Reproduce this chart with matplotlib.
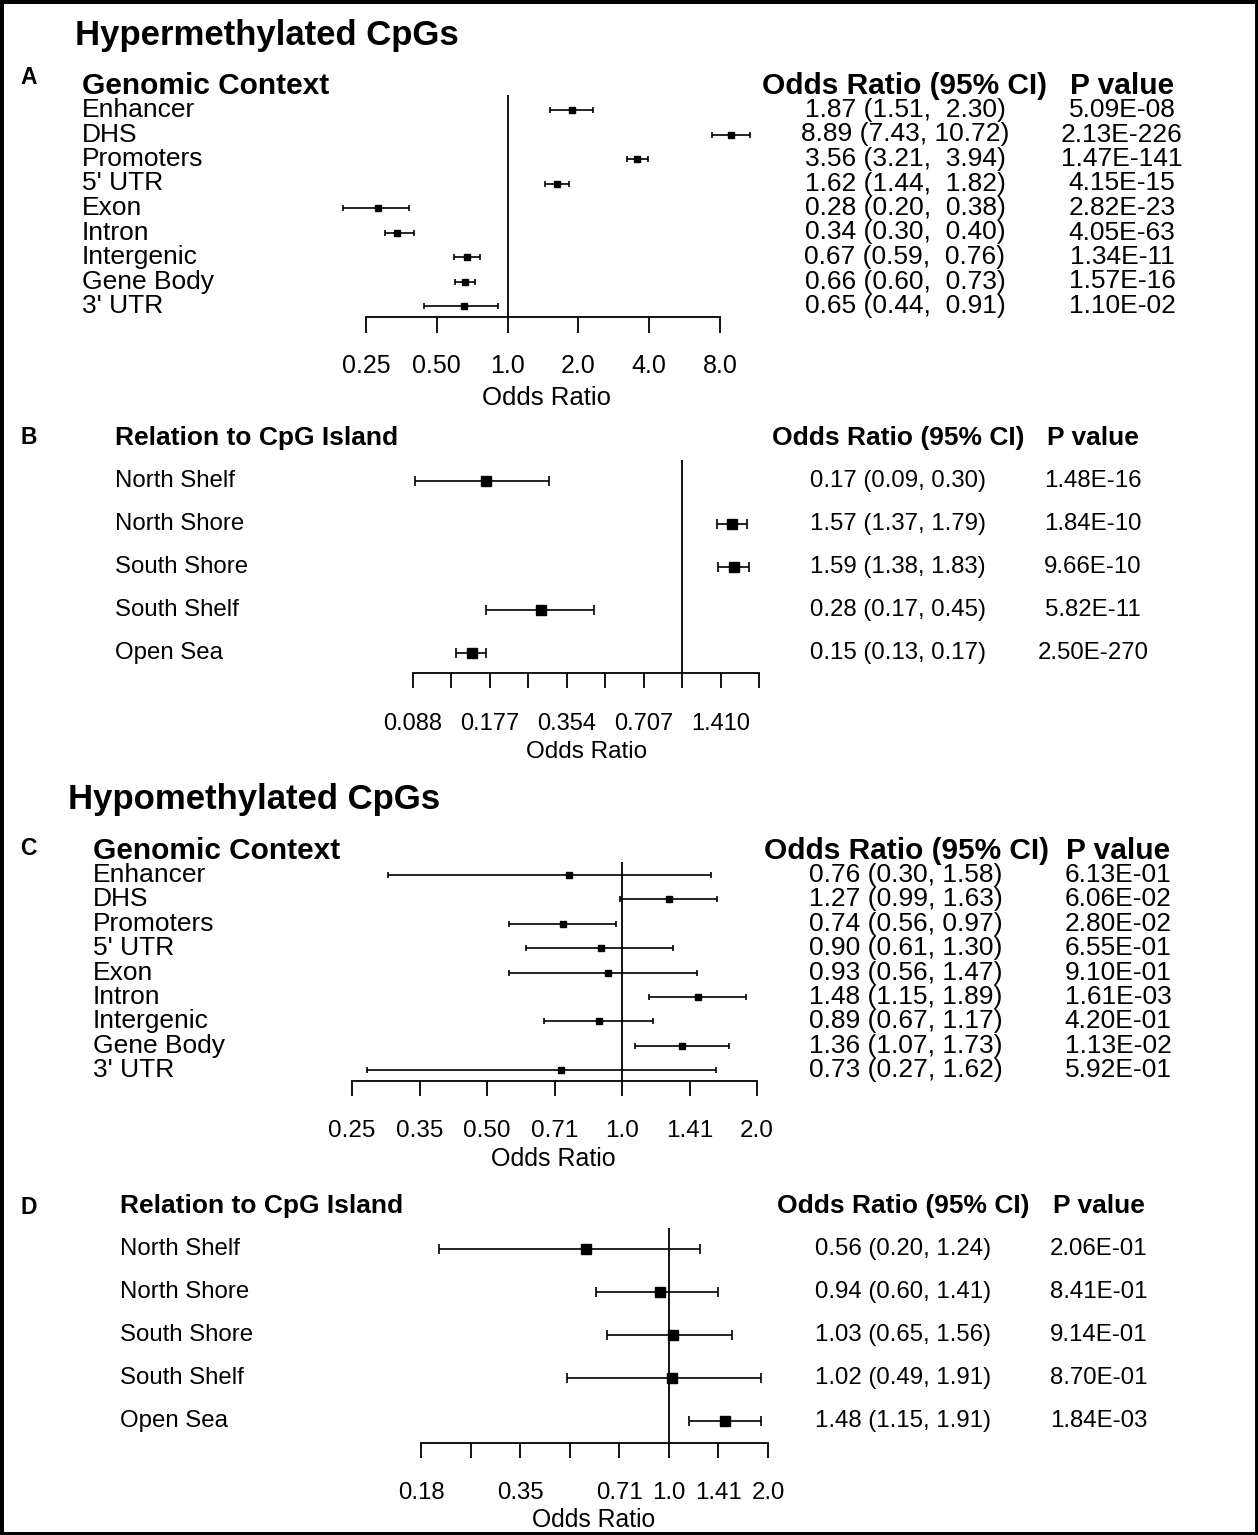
import numpy as np
import matplotlib
matplotlib.use('Agg')
import matplotlib.pyplot as plt
import matplotlib.transforms as mtransforms
from matplotlib.patches import Rectangle

plt.rcParams['font.family'] = ['Liberation Sans', 'DejaVu Sans']

W, H = 1258, 1535

# genomic context, hypermethylated
ctx_names = ['Enhancer', 'DHS', 'Promoters', "5' UTR", 'Exon', 'Intron',
             'Intergenic', 'Gene Body', "3' UTR"]
a_or = [1.87, 8.89, 3.56, 1.62, 0.28, 0.34, 0.67, 0.66, 0.65]
a_lo = [1.51, 7.43, 3.21, 1.44, 0.20, 0.30, 0.59, 0.60, 0.44]
a_hi = [2.30, 10.72, 3.94, 1.82, 0.38, 0.40, 0.76, 0.73, 0.91]
a_p = [5.09e-08, 2.13e-226, 1.47e-141, 4.15e-15, 2.82e-23, 4.05e-63,
       1.34e-11, 1.57e-16, 1.10e-02]

# relation to CpG island, hypermethylated
isl_names = ['North Shelf', 'North Shore', 'South Shore', 'South Shelf', 'Open Sea']
b_or = [0.17, 1.57, 1.59, 0.28, 0.15]
b_lo = [0.09, 1.37, 1.38, 0.17, 0.13]
b_hi = [0.30, 1.79, 1.83, 0.45, 0.17]
b_p = [1.48e-16, 1.84e-10, 9.66e-10, 5.82e-11, 2.50e-270]

# genomic context, hypomethylated
c_or = [0.76, 1.27, 0.74, 0.90, 0.93, 1.48, 0.89, 1.36, 0.73]
c_lo = [0.30, 0.99, 0.56, 0.61, 0.56, 1.15, 0.67, 1.07, 0.27]
c_hi = [1.58, 1.63, 0.97, 1.30, 1.47, 1.89, 1.17, 1.73, 1.62]
c_p = [6.13e-01, 6.06e-02, 2.80e-02, 6.55e-01, 9.10e-01, 1.61e-03,
       4.20e-01, 1.13e-02, 5.92e-01]

# relation to CpG island, hypomethylated
d_or = [0.56, 0.94, 1.03, 1.02, 1.48]
d_lo = [0.20, 0.60, 0.65, 0.49, 1.15]
d_hi = [1.24, 1.41, 1.56, 1.91, 1.91]
d_p = [2.06e-01, 8.41e-01, 9.14e-01, 8.70e-01, 1.84e-03]

a_ticks = [0.25, 0.5, 1.0, 2.0, 4.0, 8.0]
a_ticklabels = ['0.25', '0.50', '1.0', '2.0', '4.0', '8.0']
b_ticks = list(2.0 ** np.arange(-3.5, 1.01, 0.5))
b_ticklabels = ['0.088', '', '0.177', '', '0.354', '', '0.707', '', '1.410', '']
c_ticks = list(2.0 ** np.arange(-2.0, 1.01, 0.5))
c_ticklabels = ['0.25', '0.35', '0.50', '0.71', '1.0', '1.41', '2.0']
d_ticks = list(2.0 ** np.arange(-2.5, 1.01, 0.5))
d_ticklabels = ['0.18', '', '0.35', '', '0.71', '1.0', '1.41', '2.0']


def fy(py):
    return 1 - py / H


def forest(fig, names, odds, lo, hi, pvals, ticks, ticklabels, header, lay):
    x0, x1 = lay['ax_x']
    y0, dy = lay['rows']
    top, base = lay['ax_y']
    ax = fig.add_axes([x0 / W, fy(base), (x1 - x0) / W, (base - top) / H])
    ax.set_xscale('log', base=2)
    ax.set_xlim(ticks[0], ticks[-1])
    ax.set_ylim((base - y0) / dy, (top - y0) / dy)
    ax.patch.set_visible(False)
    for s in ['left', 'right', 'top']:
        ax.spines[s].set_visible(False)
    ax.spines['bottom'].set_linewidth(1.3)
    ax.set_yticks([])
    ax.xaxis.set_minor_locator(matplotlib.ticker.NullLocator())
    ax.set_xticks(ticks)
    ax.set_xticklabels([])
    ax.tick_params(axis='x', direction='out', length=lay['ticklen'], width=1.3)
    ax.axvline(1.0, color='black', lw=1.3)

    rows = np.arange(len(names))
    odds = np.array(odds)
    xerr = [odds - np.array(lo), np.array(hi) - odds]
    ax.errorbar(odds, rows, xerr=xerr, fmt='s', color='black', ms=lay['ms'],
                capsize=lay['cap'], elinewidth=1.2, capthick=1.2, clip_on=False)

    # text columns share the row positions of the axes
    row_tr = mtransforms.blended_transform_factory(fig.transFigure, ax.transData)
    fs, hfs = lay['fs'], lay['hfs']
    vx, px = lay['cols']
    ax.text(lay['lab_x'] / W, -1, header, transform=row_tr, fontsize=hfs,
            fontweight='bold', ha='left', va='center')
    ax.text(vx / W, -1, 'Odds Ratio (95% CI)', transform=row_tr, fontsize=hfs,
            fontweight='bold', ha='center', va='center')
    ax.text(px / W, -1, 'P value', transform=row_tr, fontsize=hfs,
            fontweight='bold', ha='center', va='center')
    w = max(len(f'{h:.2f}') for h in hi)
    for i, nm in enumerate(names):
        ax.text(lay['lab_x'] / W, i, nm, transform=row_tr, fontsize=fs,
                ha='left', va='center')
        ax.text(vx / W, i, f'{odds[i]:.2f} ({lo[i]:.2f}, {hi[i]:>{w}.2f})',
                transform=row_tr, fontsize=fs, ha='center', va='center')
        ax.text(px / W, i, f'{pvals[i]:.2E}', transform=row_tr, fontsize=fs,
                ha='center', va='center')

    # tick labels and axis title
    tick_tr = mtransforms.blended_transform_factory(ax.transData, fig.transFigure)
    for t, lbl in zip(ticks, ticklabels):
        ax.text(t, fy(lay['tick_y']), lbl, transform=tick_tr,
                fontsize=lay['tfs'], ha='center', va='center')
    xl_x, xl_y = lay['xlab']
    fig.text(xl_x / W, fy(xl_y), 'Odds Ratio', fontsize=lay['tfs'] + 0.5,
             ha='center', va='center')
    fig.text(20 / W, fy(lay['letter_y']), lay['letter'], fontsize=16.5,
             fontweight='bold', ha='left', va='center')
    return ax


fig = plt.figure(figsize=(W / 100, H / 100), dpi=100)

fig.text(75 / W, fy(35), 'Hypermethylated CpGs', fontsize=25,
         fontweight='bold', ha='left', va='center')
fig.text(68 / W, fy(800), 'Hypomethylated CpGs', fontsize=25,
         fontweight='bold', ha='left', va='center')

forest(fig, ctx_names, a_or, a_lo, a_hi, a_p, a_ticks, a_ticklabels,
       'Genomic Context',
       dict(ax_x=(366, 720), rows=(110, 24.5), ax_y=(95, 317), ticklen=11.5,
            ms=4.5, cap=2.5, fs=19, hfs=21.5, tfs=18, lab_x=82,
            cols=(905, 1122), tick_y=366, xlab=(546, 398),
            letter='A', letter_y=78))

forest(fig, isl_names, b_or, b_lo, b_hi, b_p, b_ticks, b_ticklabels,
       'Relation to CpG Island',
       dict(ax_x=(413, 759), rows=(481, 43), ax_y=(460, 673), ticklen=11,
            ms=7, cap=3.6, fs=17.3, hfs=19, tfs=17, lab_x=115,
            cols=(898, 1093), tick_y=724, xlab=(587, 752),
            letter='B', letter_y=438))

forest(fig, ctx_names, c_or, c_lo, c_hi, c_p, c_ticks, c_ticklabels,
       'Genomic Context',
       dict(ax_x=(352, 757), rows=(875, 24.4), ax_y=(862, 1081), ticklen=10.5,
            ms=4.5, cap=2.5, fs=19, hfs=21.5, tfs=17.5, lab_x=93,
            cols=(906, 1118), tick_y=1131, xlab=(553, 1159),
            letter='C', letter_y=848))

forest(fig, isl_names, d_or, d_lo, d_hi, d_p, d_ticks, d_ticklabels,
       'Relation to CpG Island',
       dict(ax_x=(421, 768), rows=(1249, 43), ax_y=(1228, 1443), ticklen=11,
            ms=6.5, cap=3.6, fs=17.3, hfs=19, tfs=17.3, lab_x=120,
            cols=(903, 1099), tick_y=1493, xlab=(594, 1520),
            letter='D', letter_y=1207))

fig.patches.append(Rectangle((0, 0), 1, 1, transform=fig.transFigure,
                             fill=False, ec='black', lw=5))

fig.savefig('out.png', dpi=100)
